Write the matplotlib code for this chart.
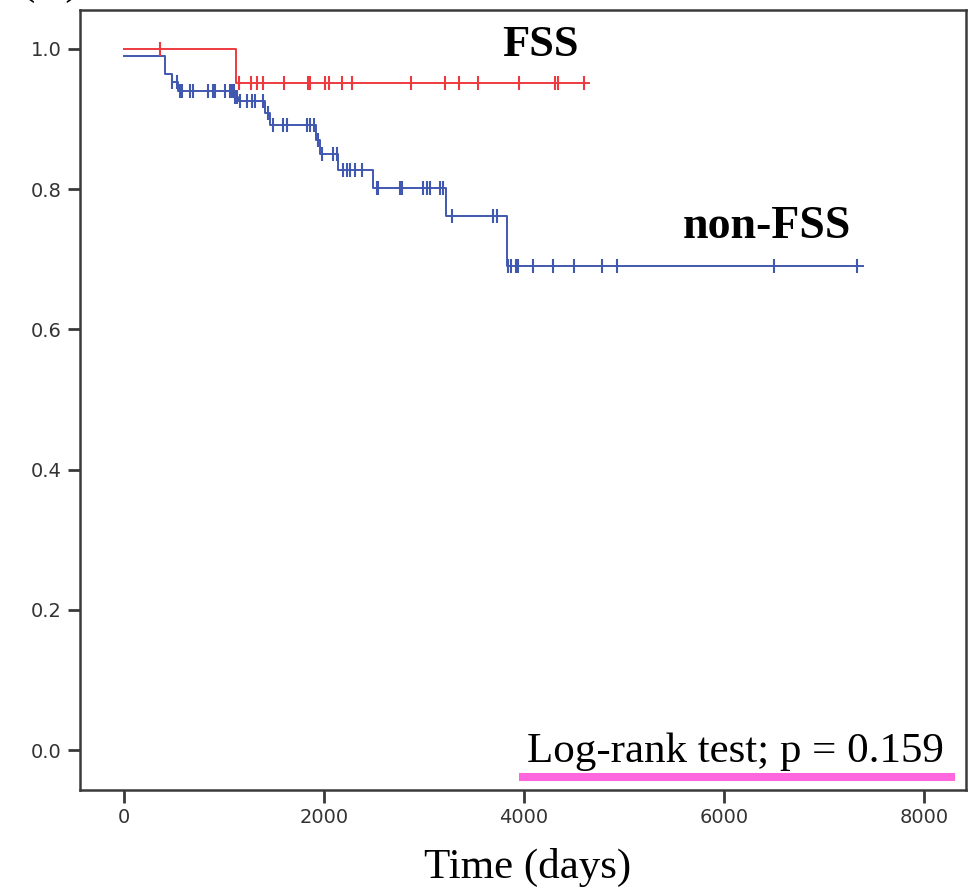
import numpy as np
import matplotlib
matplotlib.use("Agg")
import matplotlib.pyplot as plt

# Kaplan-Meier curves (step start times in days, survival level after the step)
fss_times = [0, 1120]
fss_surv = [1.0, 0.951]
fss_end = 4650
fss_censor = [360, 1150, 1267, 1333, 1393, 1603, 1837, 1860, 2010, 2053, 2177, 2283,
              2870, 3210, 3353, 3543, 3953, 4310, 4343, 4603]

nonfss_times = [0, 410, 477, 543, 1100, 1140, 1410, 1460, 1915, 1960, 2143, 2493, 3220, 3827]
nonfss_surv = [0.990, 0.964, 0.953, 0.940, 0.932, 0.926, 0.908, 0.891, 0.870, 0.850,
               0.827, 0.801, 0.762, 0.690]
nonfss_end = 7390
nonfss_censor = [480, 527, 560, 577, 660, 693, 843, 893, 910, 1010, 1060, 1075, 1088, 1096,
                 1110, 1125, 1160, 1230, 1277, 1310, 1393, 1443, 1493, 1593, 1627, 1827,
                 1860, 1900, 1943, 1977, 2093, 2127, 2193, 2227, 2260, 2310, 2377, 2527,
                 2543, 2760, 2777, 2993, 3027, 3060, 3160, 3193, 3277, 3693, 3727, 3843,
                 3867, 3920, 3943, 4093, 4293, 4503, 4777, 4933, 6503, 7327]

x_ticks = [0, 2000, 4000, 6000, 8000]
y_ticks = [0.0, 0.2, 0.4, 0.6, 0.8, 1.0]

RED = '#ee3a3f'
BLUE = '#4158b0'
SPINE = '#3a3a3a'
SERIF = ['Liberation Serif', 'DejaVu Serif']


def draw_km(ax, times, surv, end, censor, color):
    ax.step(times + [end], surv + [surv[-1]], where='post', color=color, lw=1.4, zorder=3)
    idx = np.searchsorted(times, censor, side='right') - 1
    cy = np.array(surv)[idx]
    ax.plot(censor, cy, ls='none', marker='|', ms=10, mew=1.5, color=color, zorder=4)


fig = plt.figure(figsize=(9.73, 8.89), dpi=100)
ax = fig.add_axes([80 / 973, 1 - 790 / 889, (966 - 80) / 973, (790 - 10) / 889])

draw_km(ax, fss_times, fss_surv, fss_end, fss_censor, RED)
draw_km(ax, nonfss_times, nonfss_surv, nonfss_end, nonfss_censor, BLUE)

ax.set_xlim(-440, 8420)
ax.set_ylim(-0.057, 1.0556)
ax.set_xticks(x_ticks)
ax.set_yticks(y_ticks)
ax.set_xticklabels([str(t) for t in x_ticks])
ax.set_yticklabels([f'{t:.1f}' for t in y_ticks])
ax.tick_params(length=9, width=2, color=SPINE, labelsize=14, labelcolor='#333333', pad=4)
for s in ax.spines.values():
    s.set_color(SPINE)
    s.set_linewidth(1.8)

# group labels
ax.text(4160, 1.006, 'FSS', family=SERIF, fontsize=32, fontweight='bold', ha='center', va='center')
ax.text(6430, 0.746, 'non-FSS', family=SERIF, fontsize=33, fontweight='bold', ha='center', va='center')

# log-rank note with its pink underline
ax.text(6110, -0.017, 'Log-rank test; p = 0.159', family=SERIF, fontsize=31, ha='center', va='baseline')
ax.plot([3950, 8310], [-0.0385, -0.0385], color='#ff66dd', lw=5.8, solid_capstyle='butt', clip_on=False, zorder=5)

fig.text(528 / 973, 1 - 878 / 889, 'Time (days)', family=SERIF, fontsize=31, ha='center', va='baseline')
# panel letter, cut off by the top edge in the original
fig.text(20 / 973, 1 + 6 / 889, '(A)', family=SERIF, fontsize=31, ha='left', va='baseline')

fig.savefig('out.png', dpi=100)
